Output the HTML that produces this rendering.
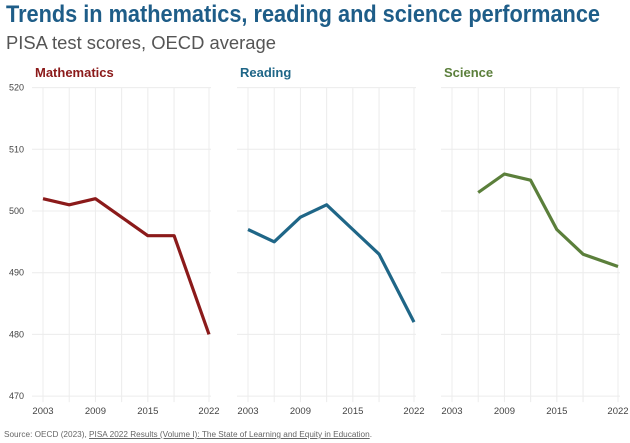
<!DOCTYPE html>
<html><head><meta charset="utf-8"><style>
body{margin:0;background:#fff;width:630px;height:443px;overflow:hidden;font-family:"Liberation Sans",sans-serif}
#title{position:absolute;left:6px;top:1px;white-space:nowrap;font-family:"Liberation Sans Narrow","Liberation Sans",sans-serif;font-weight:bold;font-size:24px;color:#1e5d88;transform-origin:left top}
#sub{position:absolute;left:6px;top:33px;font-size:18px;color:#555;white-space:nowrap}
#src{position:absolute;left:4px;top:430px;font-size:8px;color:#666;white-space:nowrap}
#src u{color:#666}
</style></head><body>
<div id="title">Trends in mathematics, reading and science performance</div>
<div id="sub">PISA test scores, OECD average</div>
<svg id="chart" width="630" height="443" style="position:absolute;left:0;top:0"></svg>
<div id="src">Source: OECD (2023), <u>PISA 2022 Results (Volume I): The State of Learning and Equity in Education</u>.</div>
<script>
const years=[2003,2006,2009,2012,2015,2018,2022];
const yTicks=[470,480,490,500,510,520];
const xTickLabels=[2003,2009,2015,2022];
const panelNames=["Mathematics","Reading","Science"];
const mathValues=[502,501,502,499,496,496,480];
const readingValues=[497,495,499,501,497,493,482];
const scienceValues=[null,503,506,505,497,493,491];
const series=[mathValues,readingValues,scienceValues];
const colors=["#8b1a1a","#1f6687","#5b7f3b"];
const panelX0=[43,248,452];
(function(){const t=document.getElementById('title');const w=t.getBoundingClientRect().width;t.style.transform='scaleX('+(594/w)+')';
const s=document.getElementById('sub');const ws=s.getBoundingClientRect().width;s.style.transformOrigin='left top';s.style.transform='scaleX('+(270/ws)+')';
const r=document.getElementById('src');const wr=r.getBoundingClientRect().width;r.style.transformOrigin='left top';r.style.transform='scaleX('+(368/wr)+')';})();
const svg=document.getElementById('chart');
const NS="http://www.w3.org/2000/svg";
function yS(v){return 211-(v-500)*6.17;}
function xS(p,yr){return panelX0[p]+(yr-2003)*166/19;}
function mk(tag,attrs){const e=document.createElementNS(NS,tag);for(const k in attrs)e.setAttribute(k,attrs[k]);svg.appendChild(e);return e;}
for(let p=0;p<3;p++){
  const t=mk('text',{x:panelX0[p]-8,y:77,'font-size':13,'font-weight':'bold',fill:colors[p]});
  t.textContent=panelNames[p];
  
  
  for(const v of yTicks){
    const l=mk('line',{x1:xS(p,2003)-11,x2:xS(p,2022)+2,y1:yS(v),y2:yS(v),stroke:'#ececec','stroke-width':1});
    
    
  }
  for(const yr of years){
    const l=mk('line',{x1:xS(p,yr),x2:xS(p,yr),y1:yS(520),y2:yS(470)+6,stroke:'#ececec','stroke-width':1});
    
    
  }
  for(const yr of xTickLabels){
    const t2=mk('text',{x:xS(p,yr),y:414,'font-size':9.5,fill:'#444','text-anchor':'middle'});
    t2.textContent=yr;
    
    
  }
  let d='';
  series[p].forEach((v,i)=>{if(v==null)return;d+=(d?'L':'M')+xS(p,years[i]).toFixed(1)+','+yS(v).toFixed(1);});
  const path=mk('path',{d:d,fill:'none',stroke:colors[p],'stroke-width':3.2,'stroke-linejoin':'round'});
  
  
}
for(const v of yTicks){
  const t=mk('text',{x:24,y:yS(v)+3,'font-size':9,fill:'#444','text-anchor':'end'});
  t.textContent=v;
  
  
}
</script>
</body></html>
